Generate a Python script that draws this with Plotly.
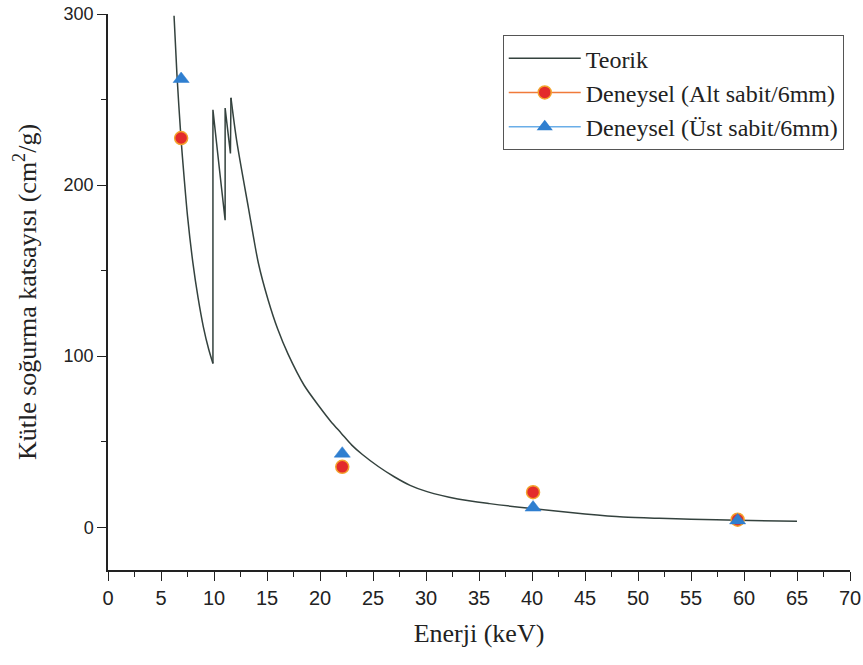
import plotly.graph_objects as go

# Theoretical curve, split at absorption edges
teorik_e1 = [6.23, 6.5, 6.89, 7.2, 7.5, 8.0, 8.5, 9.0, 9.5, 9.9]
teorik_mu1 = [299, 265, 227, 203, 182, 155, 134, 117, 104, 95.7]
teorik_e2 = [9.9, 9.9, 10.5, 11.05, 11.05, 11.55, 11.6]
teorik_mu2 = [95.7, 244, 210, 179.5, 245, 218.5, 251]
teorik_e3 = [11.6, 12.14, 13.24, 14.2, 15.1, 16.0, 17.0, 18.5, 20.0, 21.0, 22.0, 23.0,
             24.0, 25.5, 27.0, 28.5, 30.1, 33.0, 36.0, 40.0, 45.0, 48.6, 52.0, 55.0, 59.4, 65.0]
teorik_mu3 = [251, 226, 187, 154, 133, 116, 101, 83, 70, 62, 55, 48,
              42.5, 35.5, 29.5, 24.5, 20.8, 16.5, 13.8, 10.9, 7.8, 6.0, 5.2, 4.7, 4.1, 3.5]

# Experimental data
alt_e = [6.9, 22.1, 40.1, 59.4]
alt_mu = [227.5, 35.3, 20.5, 4.4]
ust_e = [6.9, 22.1, 40.1, 59.4]
ust_mu = [262, 43, 11.5, 4.0]

x_ticks = list(range(0, 75, 5))
y_ticks = [0, 100, 200, 300]

red = "#e32b2b"
blue = "#2f7fd0"
curve_col = "#34423e"

fig = go.Figure()
fig.add_trace(go.Scatter(x=teorik_e1, y=teorik_mu1, mode="lines", name="Teorik",
                         legendgroup="t", line=dict(color=curve_col, width=1.5, shape="spline", smoothing=0.8)))
fig.add_trace(go.Scatter(x=teorik_e2, y=teorik_mu2, mode="lines", name="Teorik", showlegend=False,
                         legendgroup="t", line=dict(color=curve_col, width=1.5)))
fig.add_trace(go.Scatter(x=teorik_e3, y=teorik_mu3, mode="lines", name="Teorik", showlegend=False,
                         legendgroup="t", line=dict(color=curve_col, width=1.5, shape="spline", smoothing=0.8)))
fig.add_trace(go.Scatter(x=alt_e, y=alt_mu, mode="markers", showlegend=False,
                         marker=dict(symbol="circle", size=13, color=red,
                                     line=dict(color="#f3a32c", width=1.5))))
fig.add_trace(go.Scatter(x=ust_e, y=ust_mu, mode="markers", showlegend=False,
                         marker=dict(symbol="triangle-up", size=14, color=blue,
                                     line=dict(color=blue, width=0.5))))
# legend entries (line + marker style as in reference legend)
fig.add_trace(go.Scatter(x=[None], y=[None], mode="lines+markers",
                         name="Deneysel (Alt sabit/6mm)",
                         line=dict(color="#f07a3a", width=1.5),
                         marker=dict(symbol="circle", size=13, color=red,
                                     line=dict(color="#f3a32c", width=1.5))))
fig.add_trace(go.Scatter(x=[None], y=[None], mode="lines+markers",
                         name="Deneysel (Üst sabit/6mm)",
                         line=dict(color="#6aaee8", width=1.5),
                         marker=dict(symbol="triangle-up", size=14, color=blue)))

fig.update_layout(
    width=863, height=665,
    margin=dict(l=108, r=13, t=14, b=95),
    paper_bgcolor="white", plot_bgcolor="white",
    showlegend=True,
    legend=dict(x=0.532, y=0.962, xanchor="left", yanchor="top",
                bordercolor="#555555", borderwidth=1, bgcolor="white",
                font=dict(family="Liberation Serif", size=24, color="#222"),
                itemwidth=72, tracegroupgap=0),
    font=dict(family="Liberation Sans", color="#222"),
)
fig.update_xaxes(range=[0, 70], tickvals=x_ticks, ticktext=[str(v) for v in x_ticks],
                 automargin=False,
                 ticks="outside", ticklen=9, tickwidth=1.3, tickcolor="#222",
                 minor=dict(ticks="outside", ticklen=5, tickwidth=1.3, tickcolor="#222", dtick=2.5, tick0=0),
                 showline=True, linecolor="#222", linewidth=1.5, showgrid=False, zeroline=False,
                 tickfont=dict(family="Liberation Sans", size=20),
                 title=dict(text="Enerji (keV)", font=dict(family="Liberation Serif", size=26), standoff=16))
fig.update_yaxes(range=[-25, 300], tickvals=y_ticks, ticktext=[str(v) for v in y_ticks],
                 automargin=False,
                 ticks="outside", ticklen=9, tickwidth=1.3, tickcolor="#222",
                 minor=dict(ticks="outside", ticklen=5, tickwidth=1.3, tickcolor="#222", dtick=50, tick0=0),
                 showline=True, linecolor="#222", linewidth=1.5, showgrid=False, zeroline=False,
                 tickfont=dict(family="Liberation Sans", size=18),
                 title=dict(text="Kütle soğurma katsayısı (cm<sup>2</sup>/g)",
                            font=dict(family="Liberation Serif", size=26), standoff=20))

fig.write_html("out.html")
